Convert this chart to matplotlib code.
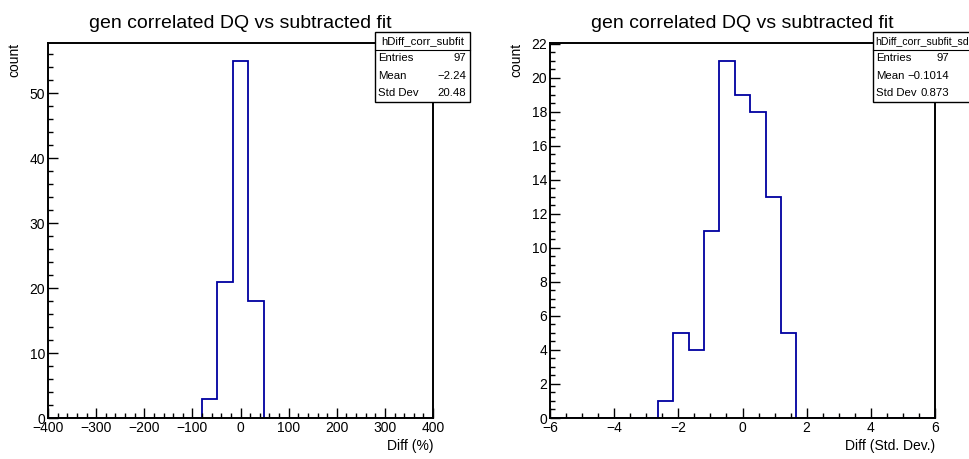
import numpy as np
import matplotlib.pyplot as plt
from matplotlib.ticker import MultipleLocator
from matplotlib.patches import Rectangle
from matplotlib.lines import Line2D

plt.rcParams['font.family'] = ['Liberation Sans', 'DejaVu Sans']

title = 'gen correlated DQ vs subtracted fit'
hist_color = '#0000a0'

# left histogram: Diff (%), 25 bins from -400 to 400
pct_range = (-400, 400)
pct_counts = [0, 0, 0, 0, 0, 0, 0, 0, 0, 0,
              3, 21, 55, 18, 0,
              0, 0, 0, 0, 0, 0, 0, 0, 0, 0]
pct_stats = ['hDiff_corr_subfit', '97', '\u22122.24', '20.48']

# right histogram: Diff (Std. Dev.), 25 bins from -6 to 6
sd_range = (-6, 6)
sd_counts = [0, 0, 0, 0, 0, 0, 0,
             1, 5, 4, 11, 21, 19, 18, 13, 5,
             0, 0, 0, 0, 0, 0, 0, 0, 0]
sd_stats = ['hDiff_corr_subfit_sd', '97', '\u22120.1014', '0.873']

W, H = 969, 459
fig = plt.figure(figsize=(W / 100, H / 100), dpi=100)


def px_axes(x0, x1, y0, y1):
    return fig.add_axes([x0 / W, 1 - y1 / H, (x1 - x0) / W, (y1 - y0) / H])


def draw_hist(ax, counts, rng, xmajor, xminor, ymajor, yminor, xlabel):
    edges = np.linspace(rng[0], rng[1], len(counts) + 1)
    ax.stairs(counts, edges, color=hist_color, lw=1.3, baseline=0)
    ax.set_xlim(*rng)
    ax.set_ylim(0, max(counts) * 1.05)
    ax.xaxis.set_major_locator(MultipleLocator(xmajor))
    ax.xaxis.set_minor_locator(MultipleLocator(xminor))
    ax.yaxis.set_major_locator(MultipleLocator(ymajor))
    ax.yaxis.set_minor_locator(MultipleLocator(yminor))
    ax.tick_params(which='both', direction='in', top=False, right=False,
                   labelsize=10, pad=2, width=1)
    ax.tick_params(which='major', length=7.5)
    ax.tick_params(which='minor', length=3.8)
    for s in ax.spines.values():
        s.set_linewidth(1.4)
    ax.set_xlabel(xlabel, loc='right', fontsize=10, labelpad=3)
    ax.set_ylabel('count', loc='top', fontsize=10, labelpad=6)
    ax.set_title(title, fontsize=14, pad=11)


def stats_box(x0, x1, val_x, texts, title_left=False):
    y0, y1 = 32, 102
    rows = np.linspace(y0, y1, 5)
    fig.add_artist(Rectangle((x0 / W, 1 - y1 / H), (x1 - x0) / W, (y1 - y0) / H,
                             transform=fig.transFigure, fc='white', ec='black',
                             lw=1, zorder=5))
    fig.add_artist(Line2D([x0 / W, x1 / W], [1 - rows[1] / H] * 2,
                          transform=fig.transFigure, color='black', lw=0.8, zorder=6))
    ty = 1 - (rows[0] + rows[1]) / 2 / H
    if title_left:
        fig.text((x0 + 2) / W, ty, texts[0], ha='left', va='center', fontsize=7.6, zorder=7)
    else:
        fig.text((x0 + x1) / 2 / W, ty, texts[0], ha='center', va='center', fontsize=8.2, zorder=7)
    names = ['Entries', 'Mean', 'Std Dev']
    for i, name in enumerate(names):
        yc = 1 - (rows[i + 1] + rows[i + 2]) / 2 / H
        fig.text((x0 + 3) / W, yc, name, ha='left', va='center', fontsize=8.2, zorder=7)
        fig.text(val_x / W, yc, texts[i + 1], ha='right', va='center',
                 fontsize=8.2, zorder=7)


ax1 = px_axes(48, 433, 43, 418)
draw_hist(ax1, pct_counts, pct_range, 100, 20, 10, 2, 'Diff (%)')

ax2 = px_axes(550, 935, 43, 418)
draw_hist(ax2, sd_counts, sd_range, 2, 0.5, 2, 0.5, 'Diff (Std. Dev.)')

stats_box(375, 470, 466, pct_stats)
stats_box(873, 1000, 949, sd_stats, title_left=True)

fig.savefig('out.png', dpi=100)
